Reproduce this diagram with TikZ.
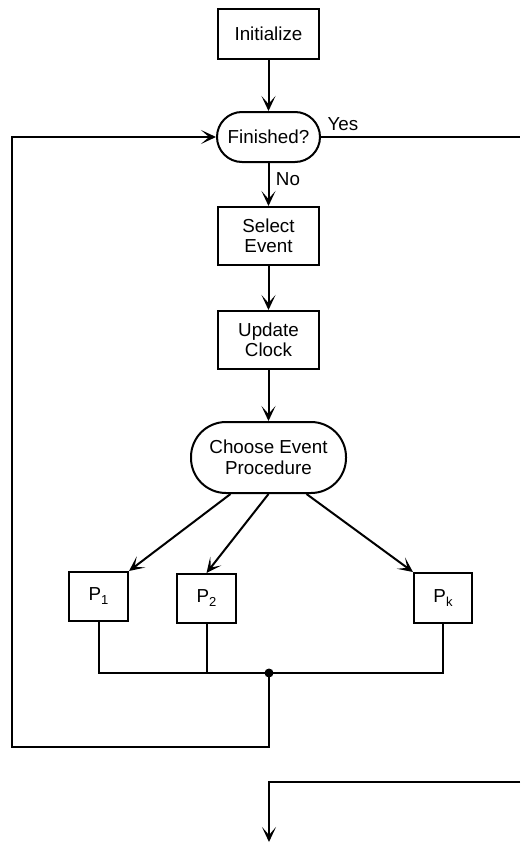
\documentclass[tikz,border=0pt]{standalone}
\usepackage{fontspec}
\setmainfont{Liberation Sans}
\usetikzlibrary{arrows.meta}
\newcommand{\Psub}[1]{P\raisebox{-4pt}{\fontsize{13}{13}\selectfont #1}}
\begin{document}
\begin{tikzpicture}[x=1pt,y=-1pt,
  line width=2pt,
  font=\fontsize{18.8}{20.5}\selectfont,
  box/.style={draw, align=center, inner sep=0pt},
  term/.style={draw, align=center, inner sep=0pt},
  arr/.style={-{Stealth[length=15pt,width=14pt,inset=8pt]}}]
\useasboundingbox (0,0) rectangle (520,843);
\node[box, minimum width=101pt, minimum height=50pt] (init) at (268.5,34) {Initialize};
\node[term, rounded corners=25pt, minimum width=103pt, minimum height=50pt] (fin) at (268.5,137) {Finished?};
\node[box, minimum width=101pt, minimum height=58pt] (sel) at (268.5,236) {Select\\Event};
\node[box, minimum width=101pt, minimum height=58pt] (upd) at (268.5,340) {Update\\Clock};
\node[term, rounded corners=35pt, minimum width=155pt, minimum height=71pt] (choose) at (268.5,457.5) {Choose Event\\Procedure};
\node[box, minimum width=59pt, minimum height=49pt] (p1) at (98.5,596.5) {\Psub{1}};
\node[box, minimum width=59pt, minimum height=49pt] (p2) at (206.5,598.5) {\Psub{2}};
\node[box, minimum width=58pt, minimum height=50pt] (pk) at (443,598) {\Psub{k}};
\coordinate (dot) at (269,673);
\coordinate (lb) at (12,747);
\coordinate (yesend) at (520,137);
\coordinate (exitR) at (520,782);
\coordinate (exitB) at (269,842);
\node (yes) at (343,124) {Yes};
\node (no) at (288,179) {No};
\draw[arr] (init.south) -- (fin.north);
\draw[arr] (fin.south) -- (sel.north);
\draw[arr] (sel.south) -- (upd.north);
\draw[arr] (upd.south) -- (choose.north);
\draw[arr] ([xshift=-38pt]choose.south) -- (p1.north east);
\draw[arr] (choose.south) -- (p2.north);
\draw[arr] ([xshift=38pt]choose.south) -- (pk.north west);
\draw (p1.south) |- (dot);
\draw (pk.south) |- (dot);
\draw (p2.south) -- (p2.south |- dot);
\fill (dot) circle (4.5pt);
\draw[arr] (dot) |- (lb) -- (lb |- fin.west) -- (fin.west);
\draw (fin.east) -- (yesend);
\draw[arr] (exitR) -| (exitB);
\end{tikzpicture}
\end{document}
